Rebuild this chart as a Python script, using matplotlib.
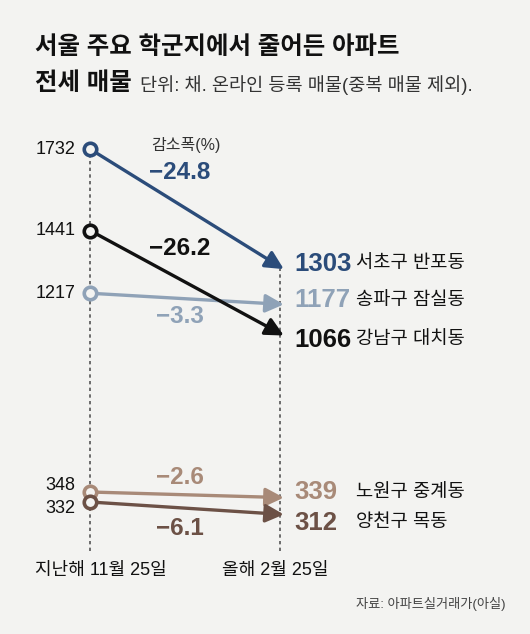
import numpy as np
import matplotlib.pyplot as plt

plt.rcParams['font.family'] = ['Liberation Sans', 'Noto Sans CJK KR', 'DejaVu Sans']

# data
names = ['서초구 반포동', '송파구 잠실동', '강남구 대치동', '노원구 중계동', '양천구 목동']
nov_counts = [1732, 1217, 1441, 348, 332]
feb_counts = [1303, 1177, 1066, 339, 312]
change_pct = ['−24.8', '−3.3', '−26.2', '−2.6', '−6.1']
dates = ['지난해 11월 25일', '올해 2월 25일']

# styles
colors = ['#2b4c7a', '#8fa2b7', '#111111', '#a88a78', '#6c5146']
bg = '#f3f3f1'
left_dy = [0, 0, 0, 5, -5]            # label nudges in points
right_dy = [4, 3, -3, 4, -6]
pct_dy = [26.6, -13, 25.2, 12.2, -14.4]

# broken value axis: upper block for big counts, lower block for small ones
vals_bp = [120.8, 400, 950, 2264.1]
pos_bp = [-634, -459.5, -368, 0]


def fwd(v):
    return np.interp(v, vals_bp, pos_bp)


def inv(p):
    return np.interp(p, pos_bp, vals_bp)


fig = plt.figure(figsize=(5.3, 6.34), dpi=100, facecolor=bg)
ax = fig.add_axes([0, 0, 1, 1])
ax.set_facecolor(bg)
ax.set_yscale('function', functions=(fwd, inv))
ax.set_ylim(vals_bp[0], vals_bp[-1])
ax.set_xlim(-90 / 190, 440 / 190)
ax.axis('off')

x0, x1, x_tip = 0, 1, 1.02

# dotted guides
ax.vlines([x0, x1], 253, [max(nov_counts), max(feb_counts)],
          colors='#555555', linestyles=(0, (2, 2)), lw=1.2, zorder=1)

for i in range(len(names)):
    c = colors[i]
    a, b = nov_counts[i], feb_counts[i]
    ax.annotate('', xy=(x_tip, b), xytext=(x0, a),
                arrowprops=dict(arrowstyle='-|>,head_length=0.5,head_width=0.25',
                                color=c, lw=2.4, mutation_scale=22, shrinkA=4, shrinkB=0),
                zorder=3)
    ax.plot(x0, a, 'o', ms=9, mfc=bg, mec=c, mew=2.6, zorder=5)

    ax.annotate(str(a), (x0, a), xytext=(-10.5, left_dy[i]), textcoords='offset points',
                ha='right', va='center', fontsize=13, color='#111111')
    ax.annotate(str(b), (x1, b), xytext=(10.5, right_dy[i]), textcoords='offset points',
                ha='left', va='center', fontsize=18.5, fontweight='bold', color=c)
    ax.annotate(names[i], (x1, b), xytext=(55, right_dy[i]), textcoords='offset points',
                ha='left', va='center', fontsize=13.5, color='#111111')
    ax.annotate(change_pct[i], (0.5, (a + b) / 2), xytext=(-4, pct_dy[i]),
                textcoords='offset points', ha='center', va='center',
                fontsize=17.5, fontweight='bold', color=c)

# date labels
ax.text(-55 / 190, 1 - 570 / 634, dates[0], transform=ax.get_xaxis_transform(),
        ha='left', va='center', fontsize=13, color='#111111')
ax.text(x1 - 5 / 190, 1 - 570 / 634, dates[1], transform=ax.get_xaxis_transform(),
        ha='center', va='center', fontsize=13, color='#111111')

fig.text(186 / 530, 1 - 145 / 634, '감소폭(%)', ha='center', va='center',
         fontsize=11.5, color='#333333')

# titles
fig.text(35 / 530, 1 - 48 / 634, '서울 주요 학군지에서 줄어든 아파트', ha='left', va='center',
         fontsize=17.6, fontweight='bold', color='#111111')
fig.text(35 / 530, 1 - 84 / 634, '전세 매물', ha='left', va='center',
         fontsize=17.6, fontweight='bold', color='#111111')
fig.text(140 / 530, 1 - 85 / 634, '단위: 채. 온라인 등록 매물(중복 매물 제외).', ha='left',
         va='center', fontsize=13.4, color='#333333')
fig.text(505 / 530, 1 - 604 / 634, '자료: 아파트실거래가(아실)', ha='right', va='center',
         fontsize=9.5, color='#444444')

fig.savefig('out.png', dpi=100, facecolor=bg)
